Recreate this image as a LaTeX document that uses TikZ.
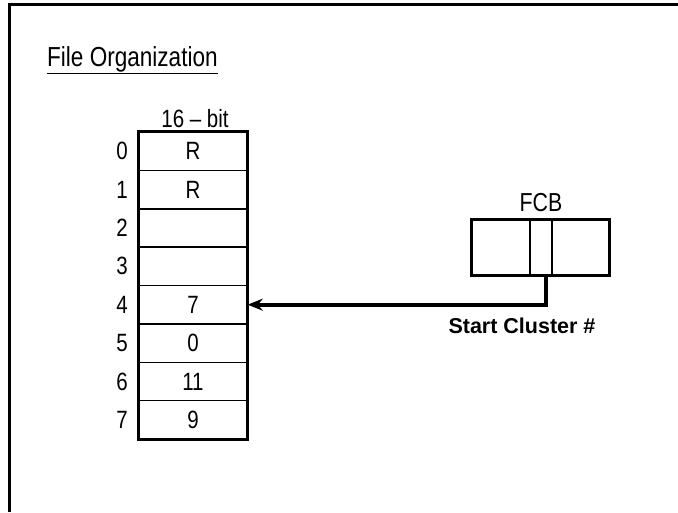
\documentclass[tikz,border=0pt]{standalone}
\usepackage{fontspec}
\setmainfont{Liberation Sans}
\newfontfamily\narrowfont[FakeStretch=0.82, Ligatures=TeX]{Liberation Sans}
\usetikzlibrary{arrows.meta}
\tikzset{
  cell/.style={draw, line width=1.5pt, minimum width=108pt, minimum height=38.375pt,
    inner sep=0pt, font=\narrowfont\fontsize{25}{29}\selectfont},
  rowlbl/.style={inner sep=0pt, font=\narrowfont\fontsize{25}{29}\selectfont},
  fcbcell/.style={draw, line width=1.5pt, minimum height=55pt, inner sep=0pt},
}
\begin{document}
\begin{tikzpicture}[x=1pt, y=-1pt, >={Stealth[length=15pt, width=12pt]}]
  \useasboundingbox (0,0) rectangle (678,512);
  % 枠（左と上だけ見える）
  \draw[line width=3pt] (9.5,512) -- (9.5,4.5) -- (678,4.5);
  % 見出し
  \node[anchor=base west, inner sep=0pt, font=\narrowfont\fontsize{27.5}{32}\selectfont] (title) at (47,66) {\underline{File Organization}};
  % 16ビットの表
  \node[inner sep=0pt, font=\narrowfont\fontsize{25}{29}\selectfont] (hdr) at (195,119) {16 \textendash{} bit};
  \foreach \v [count=\i from 0] in {R,R,{},{},7,0,11,9} {
    \node[cell] (c\i) at (193,{132+38.375*(\i+0.5)}) {\v};
    \node[rowlbl] (l\i) at (122,{132+38.375*(\i+0.5)}) {\i};
  }
  \draw[line width=2.5pt] (c0.north west) rectangle (c7.south east);
  % FCB
  \node[inner sep=0pt, font=\narrowfont\fontsize{26}{30}\selectfont] (fcb) at (541,203) {FCB};
  \node[fcbcell, minimum width=58pt] (fcbL) at (501,247.5) {};
  \node[fcbcell, minimum width=22pt] (fcbM) at (541,247.5) {};
  \node[fcbcell, minimum width=57pt] (fcbR) at (580.5,247.5) {};
  \draw[line width=2.5pt] (fcbL.north west) rectangle (fcbR.south east);
  % 開始クラスタへの矢印
  \draw[->, line width=4pt] ([xshift=5pt]fcbM.south) |- (c4.east);
  \node[inner sep=0pt, font=\fontsize{21.5}{25}\bfseries] (start) at (522,326) {Start Cluster \#};
\end{tikzpicture}
\end{document}
